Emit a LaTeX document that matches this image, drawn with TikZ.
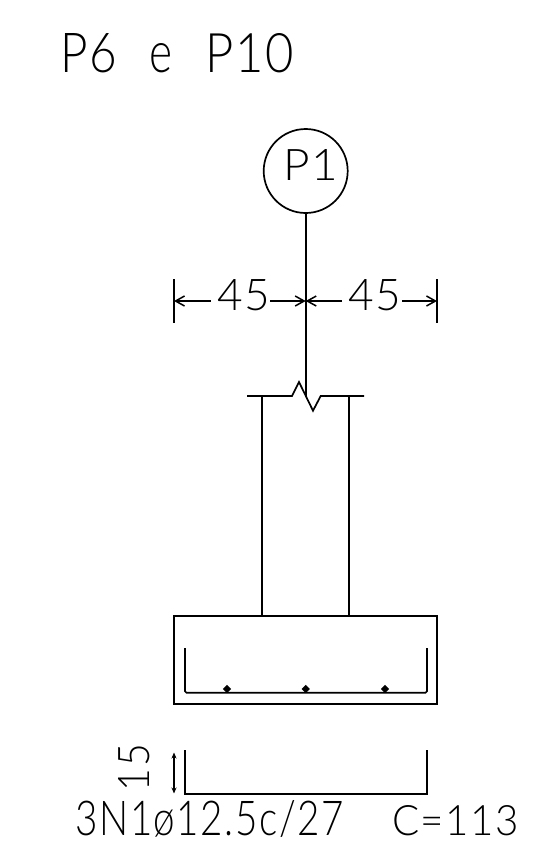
\documentclass[tikz,border=0pt]{standalone}
\usepackage{fontspec}
\usepackage{graphicx}
\setmainfont{Lato}[UprightFont=* Light,LetterSpace=4]
\usetikzlibrary{arrows.meta,shapes.geometric}
\tikzset{
  x=1pt,y=-1pt,
  ln/.style={line width=1.7pt,line cap=butt,line join=miter,black},
  tick/.style={ln},
  dimarrow/.style={line width=1.5pt,-{Straight Barb[length=9pt,width=10pt,line width=1.5pt]}},
  lab/.style={inner sep=0pt,outer sep=0pt,anchor=base west,text=black},
  dot/.style={diamond,fill=black,inner sep=0pt,minimum size=8.5pt},
  bubble/.style={circle,draw=black,line width=1.7pt,minimum size=84pt,inner sep=0pt},
}
\newcommand{\fitx}[3]{\resizebox{#1pt}{#2pt}{#3}}
\begin{document}
\begin{tikzpicture}
\useasboundingbox (0,0) rectangle (543,855);
\fill[white] (0,0) rectangle (543,855);
% title
\node[lab] (title1) at (60,72) {\fitx{57}{39}{P6}};
\node[lab] (title2) at (149,72) {\fitx{23}{29}{e}};
\node[lab] (title3) at (205,72) {\fitx{89}{39}{P10}};
% bubble
\node[bubble] (bub) at (305.7,171) {};
\node[lab] (bubtxt) at (283,180) {\fitx{55}{31}{P1}};
% coordinates
\coordinate (zigA) at (292,396);
\coordinate (zigB) at (299,382);
\coordinate (zigC) at (313,410.7);
\coordinate (zigD) at (320.7,396);
\coordinate (lineEnd) at (305.7,396);
\coordinate (mid) at (305.7,301);
\draw[ln] (bub) -- (lineEnd);
% dimension ticks
\coordinate (dimL) at (174,301);
\coordinate (dimR) at (437,301);
\draw[tick] (174,279) -- (174,323);
\draw[tick] (437,279) -- (437,323);
\draw[line width=2.3pt] (305.7,279) -- (305.7,323);
\node[lab] (d1) at (217,310) {\fitx{53}{31}{45}};
\node[lab] (d2) at (348.5,310) {\fitx{53}{31}{45}};
\draw[dimarrow] (210.5,301) -- (dimL);
\draw[dimarrow] (270,301) -- (mid);
\draw[dimarrow] (342,301) -- (mid);
\draw[dimarrow] (402,301) -- (dimR);
% break line and column
\draw[ln] (247,396) -- (zigA) -- (zigB) -- (zigC) -- (zigD) -- (364,396);
\draw[ln] (261.7,396) -- (261.7,616);
\draw[ln] (349.3,396) -- (349.3,616);
% footing
\draw[ln] (174,616) rectangle (437,704);
% rebar
\draw[ln,rounded corners=1.5pt] (185,648) -- (185,692.7) -- (427,692.7) -- (427,648);
\node[dot] (b1) at (227,689) {};
\node[dot] (b2) at (305.7,689) {};
\node[dot] (b3) at (385,689) {};
% bar detail
\draw[ln] (185,750) -- (185,794) -- (427,794) -- (427,750);
\draw[line width=1.6pt,{Stealth[length=6pt,width=5pt]}-{Stealth[length=6pt,width=5pt]}] (174,752.5) -- (174,793.5);
\node[lab,rotate=90] (h15) at (149,791) {\fitx{47}{31}{15}};
% bar label
\node[lab] (barA) at (75.5,835) {\fitx{268}{35}{3N1ø12.5c/27}};
\node[lab] (barB) at (392,835) {\fitx{127}{30}{C=113}};
\end{tikzpicture}
\end{document}
